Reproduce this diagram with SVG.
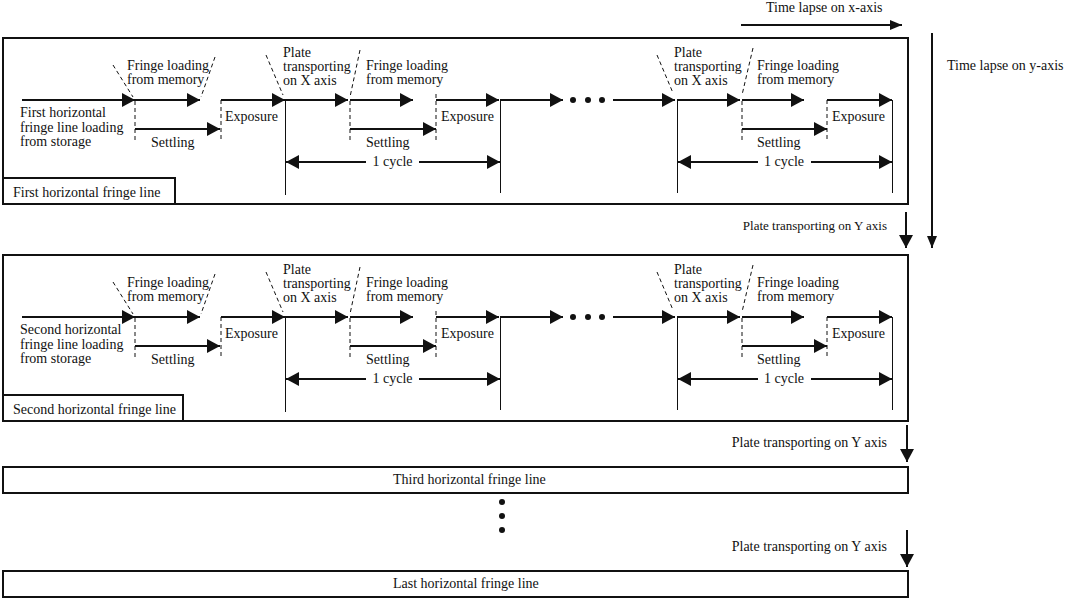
<svg xmlns="http://www.w3.org/2000/svg" width="1065" height="600" viewBox="0 0 1065 600">
<style>
text{font-family:"Liberation Serif","Times New Roman",serif;font-size:14px;fill:#111}
.box{fill:#fff;stroke:#111;stroke-width:2}
.ar{stroke:#111;stroke-width:2;fill:none;marker-end:url(#ah)}
.vs{stroke:#111;stroke-width:1;fill:none}
.ds{stroke:#111;stroke-width:1;fill:none;stroke-dasharray:4 3}
.mid{text-anchor:middle}
.end{text-anchor:end}
</style>
<defs>
<marker id="ah" markerUnits="userSpaceOnUse" markerWidth="14" markerHeight="16" refX="13" refY="7" orient="auto-start-reverse" viewBox="0 0 14 14">
<path d="M0,0 L13,7 L0,14 Z" fill="#111"/>
</marker>
<marker id="ahs" markerUnits="userSpaceOnUse" markerWidth="12" markerHeight="12" refX="12" refY="5" orient="auto" viewBox="0 0 12 10">
<path d="M0,0 L12,5 L0,10 Z" fill="#111"/>
</marker>
</defs>

<g id="axis-x">
<text x="766" y="12">Time lapse on x-axis</text>
<line x1="741" y1="25" x2="902" y2="25" stroke="#111" stroke-width="2" marker-end="url(#ahs)"/>
</g>
<g id="axis-y">
<line x1="932" y1="33" x2="932" y2="248" stroke="#111" stroke-width="2" marker-end="url(#ahs)"/>
<text x="947" y="70">Time lapse on y-axis</text>
</g>

<g id="row1">
<rect class="box" x="3" y="38" width="905" height="166"/>
<rect class="box" x="3" y="178" width="172" height="26"/>
<text x="13" y="197">First horizontal fringe line</text>
<text x="20" y="117">First horizontal</text>
<text x="20" y="131.5">fringe line loading</text>
<text x="20" y="146">from storage</text>
</g>

<g id="row2">
<rect class="box" x="3" y="255" width="905" height="166"/>
<rect class="box" x="3" y="395" width="180" height="26"/>
<text x="13" y="414">Second horizontal fringe line</text>
<text x="20" y="334">Second horizontal</text>
<text x="20" y="348.5">fringe line loading</text>
<text x="20" y="363">from storage</text>
</g>

<g id="cycles-row1">
<text x="127" y="70">Fringe loading</text>
<text x="127" y="84">from memory</text>
<text x="225" y="121">Exposure</text>
<text x="151" y="147">Settling</text>
<text x="283" y="57">Plate</text>
<text x="283" y="71">transporting</text>
<text x="283" y="85">on X axis</text>
<text x="366" y="70">Fringe loading</text>
<text x="366" y="84">from memory</text>
<text x="366" y="147">Settling</text>
<text x="441" y="121">Exposure</text>
<text class="mid" x="392.5" y="166">1 cycle</text>
<text x="674" y="57">Plate</text>
<text x="674" y="71">transporting</text>
<text x="674" y="85">on X axis</text>
<text x="757" y="70">Fringe loading</text>
<text x="757" y="84">from memory</text>
<text x="757" y="147">Settling</text>
<text x="832" y="121">Exposure</text>
<text class="mid" x="784" y="166">1 cycle</text>
</g>

<g id="cycles-row2" transform="translate(0,217)">
<text x="127" y="70">Fringe loading</text>
<text x="127" y="84">from memory</text>
<text x="225" y="121">Exposure</text>
<text x="151" y="147">Settling</text>
<text x="283" y="57">Plate</text>
<text x="283" y="71">transporting</text>
<text x="283" y="85">on X axis</text>
<text x="366" y="70">Fringe loading</text>
<text x="366" y="84">from memory</text>
<text x="366" y="147">Settling</text>
<text x="441" y="121">Exposure</text>
<text class="mid" x="392.5" y="166">1 cycle</text>
<text x="674" y="57">Plate</text>
<text x="674" y="71">transporting</text>
<text x="674" y="85">on X axis</text>
<text x="757" y="70">Fringe loading</text>
<text x="757" y="84">from memory</text>
<text x="757" y="147">Settling</text>
<text x="832" y="121">Exposure</text>
<text class="mid" x="784" y="166">1 cycle</text>
</g>

<g id="row3">
<rect class="box" x="3" y="467" width="905" height="26"/>
<text x="393" y="484">Third horizontal fringe line</text>
</g>
<g id="row-last">
<rect class="box" x="3" y="571" width="905" height="26"/>
<text x="393" y="588">Last horizontal fringe line</text>
</g>

<g id="y-transfers">
<text class="end" x="887" y="230" style="font-size:13px">Plate transporting on Y axis</text>
<text class="end" x="887" y="447">Plate transporting on Y axis</text>
<text class="end" x="887" y="551">Plate transporting on Y axis</text>
<circle cx="502" cy="502" r="3" fill="#111"/>
<circle cx="502" cy="516" r="3" fill="#111"/>
<circle cx="502" cy="530" r="3" fill="#111"/>
</g>

<g id="connectors">
<line x1="906" y1="212" x2="906" y2="248" stroke="#111" stroke-width="2" marker-end="url(#ah)"/>
<line x1="907" y1="425" x2="907" y2="462" stroke="#111" stroke-width="2" marker-end="url(#ah)"/>
<line x1="907" y1="530" x2="907" y2="567" stroke="#111" stroke-width="2" marker-end="url(#ah)"/>
<g id="flow-row1">
<line class="ar" x1="22" y1="100" x2="135" y2="100"/>
<line class="ds" x1="113" y1="65" x2="133" y2="97"/>
<line class="ds" x1="135" y1="101" x2="135" y2="142"/>
<line class="ar" x1="135" y1="100" x2="200" y2="100"/>
<line class="ds" x1="215" y1="57" x2="201" y2="97"/>
<line class="ar" x1="135" y1="129" x2="220" y2="129"/>
<line class="ds" x1="221" y1="100" x2="221" y2="142"/>
<line class="ar" x1="221" y1="100" x2="285" y2="100"/>
<line class="ds" x1="266" y1="55" x2="283" y2="95"/>
<line class="vs" x1="285.5" y1="100" x2="285.5" y2="195"/>
<line class="ar" x1="285" y1="100" x2="348" y2="100"/>
<line class="ds" x1="360" y1="50" x2="350" y2="97"/>
<line class="ds" x1="350" y1="101" x2="350" y2="140"/>
<line class="ar" x1="350" y1="100" x2="413" y2="100"/>
<line class="ar" x1="350" y1="129" x2="436" y2="129"/>
<line class="ds" x1="436" y1="94" x2="436" y2="140"/>
<line class="ar" x1="436" y1="100" x2="499" y2="100"/>
<line class="vs" x1="500.5" y1="100" x2="500.5" y2="193"/>
<line class="ar" x1="500" y1="100" x2="563" y2="100"/>
<circle cx="573" cy="100" r="3" fill="#111"/>
<circle cx="588" cy="100" r="3" fill="#111"/>
<circle cx="602" cy="100" r="3" fill="#111"/>
<line class="ar" x1="613" y1="100" x2="675" y2="100"/>
<line class="ds" x1="657" y1="55" x2="673" y2="93"/>
<line class="vs" x1="677.5" y1="100" x2="677.5" y2="193"/>
<line class="ar" x1="677" y1="100" x2="740" y2="100"/>
<line class="ds" x1="753" y1="48" x2="742" y2="95"/>
<line class="ds" x1="742" y1="101" x2="742" y2="140"/>
<line class="ar" x1="742" y1="100" x2="804" y2="100"/>
<line class="ar" x1="742" y1="129" x2="827" y2="129"/>
<line class="ds" x1="827" y1="100" x2="827" y2="140"/>
<line class="ar" x1="827" y1="100" x2="892" y2="100"/>
<line class="vs" x1="892.5" y1="100" x2="892.5" y2="193"/>
<line class="ar" x1="366" y1="162" x2="286" y2="162"/>
<line class="ar" x1="419" y1="162" x2="500" y2="162"/>
<line class="ar" x1="758" y1="162" x2="678" y2="162"/>
<line class="ar" x1="811" y1="162" x2="892" y2="162"/>
</g>
<g id="flow-row2" transform="translate(0,217)">
<line class="ar" x1="22" y1="100" x2="135" y2="100"/>
<line class="ds" x1="113" y1="65" x2="133" y2="97"/>
<line class="ds" x1="135" y1="101" x2="135" y2="142"/>
<line class="ar" x1="135" y1="100" x2="200" y2="100"/>
<line class="ds" x1="215" y1="57" x2="201" y2="97"/>
<line class="ar" x1="135" y1="129" x2="220" y2="129"/>
<line class="ds" x1="221" y1="100" x2="221" y2="142"/>
<line class="ar" x1="221" y1="100" x2="285" y2="100"/>
<line class="ds" x1="266" y1="55" x2="283" y2="95"/>
<line class="vs" x1="285.5" y1="100" x2="285.5" y2="195"/>
<line class="ar" x1="285" y1="100" x2="348" y2="100"/>
<line class="ds" x1="360" y1="50" x2="350" y2="97"/>
<line class="ds" x1="350" y1="101" x2="350" y2="140"/>
<line class="ar" x1="350" y1="100" x2="413" y2="100"/>
<line class="ar" x1="350" y1="129" x2="436" y2="129"/>
<line class="ds" x1="436" y1="94" x2="436" y2="140"/>
<line class="ar" x1="436" y1="100" x2="499" y2="100"/>
<line class="vs" x1="500.5" y1="100" x2="500.5" y2="193"/>
<line class="ar" x1="500" y1="100" x2="563" y2="100"/>
<circle cx="573" cy="100" r="3" fill="#111"/>
<circle cx="588" cy="100" r="3" fill="#111"/>
<circle cx="602" cy="100" r="3" fill="#111"/>
<line class="ar" x1="613" y1="100" x2="675" y2="100"/>
<line class="ds" x1="657" y1="55" x2="673" y2="93"/>
<line class="vs" x1="677.5" y1="100" x2="677.5" y2="193"/>
<line class="ar" x1="677" y1="100" x2="740" y2="100"/>
<line class="ds" x1="753" y1="48" x2="742" y2="95"/>
<line class="ds" x1="742" y1="101" x2="742" y2="140"/>
<line class="ar" x1="742" y1="100" x2="804" y2="100"/>
<line class="ar" x1="742" y1="129" x2="827" y2="129"/>
<line class="ds" x1="827" y1="100" x2="827" y2="140"/>
<line class="ar" x1="827" y1="100" x2="892" y2="100"/>
<line class="vs" x1="892.5" y1="100" x2="892.5" y2="193"/>
<line class="ar" x1="366" y1="162" x2="286" y2="162"/>
<line class="ar" x1="419" y1="162" x2="500" y2="162"/>
<line class="ar" x1="758" y1="162" x2="678" y2="162"/>
<line class="ar" x1="811" y1="162" x2="892" y2="162"/>
</g>
</g>
</svg>
